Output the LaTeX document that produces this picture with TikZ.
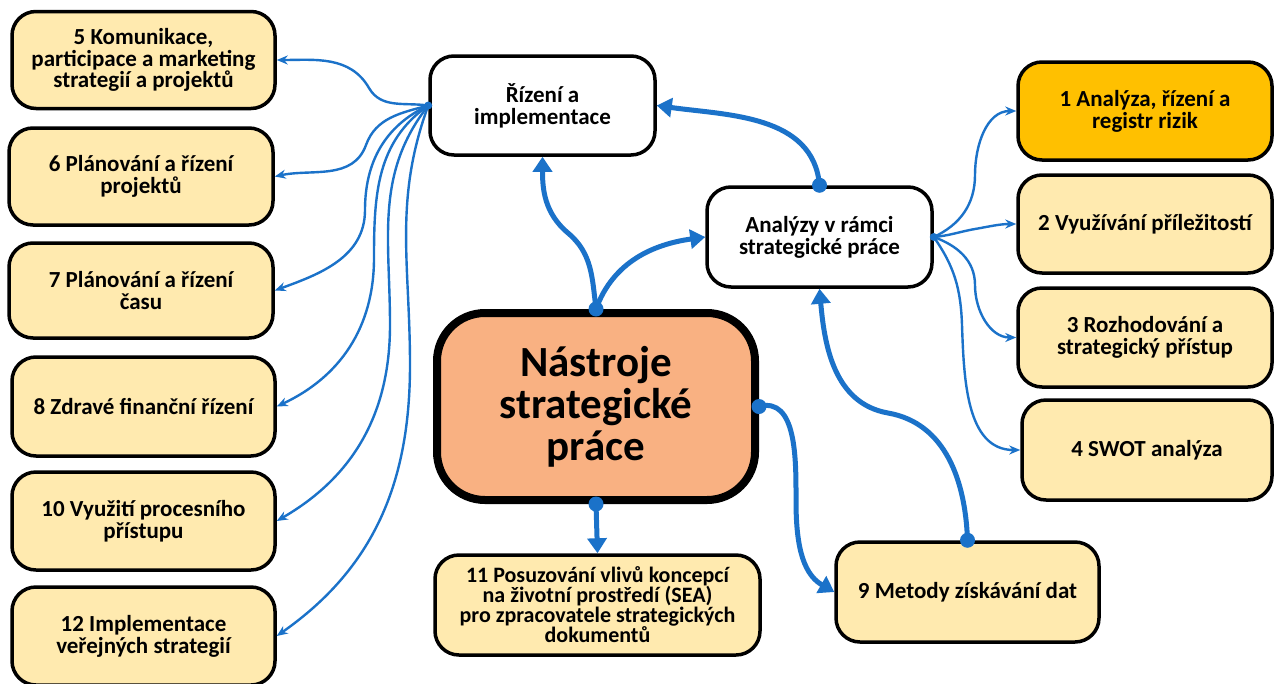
\documentclass[tikz,border=0pt]{standalone}
\usepackage{fontspec}
\setmainfont{Carlito}
\usetikzlibrary{arrows.meta}
\definecolor{cream}{HTML}{FFEAAF}
\definecolor{gold}{HTML}{FFC000}
\definecolor{salmon}{HTML}{F9B182}
\definecolor{lineblue}{HTML}{1B72C9}
\tikzset{
  box/.style={draw=black, line width=3.5pt, rounded corners=24pt, align=center,
    font=\bfseries\fontsize{23}{21.8}\selectfont, inner sep=0pt},
  creambox/.style={box, fill=cream},
  thinconn/.style={draw=lineblue, line width=2.4pt, -{Stealth[length=11pt,width=9pt]}},
  thickconn/.style={draw=lineblue, line width=5pt, -{Triangle[length=15pt,width=19pt]}},
  bigdot/.style={fill=lineblue, circle, inner sep=0pt, minimum size=15pt},
  smalldot/.style={fill=lineblue, circle, inner sep=0pt, minimum size=8pt},
}
\begin{document}
\begin{tikzpicture}[x=1pt,y=-1pt]
\clip (0,0) rectangle (1274,683);
\fill[white] (0,0) rectangle (1274,683);
% left boxes
\node[creambox, minimum width=263pt, minimum height=97pt] (b5) at (143.5,60) {5 Komunikace,\\participace a marketing\\strategií a projektů};
\node[creambox, minimum width=264pt, minimum height=97pt] (b6) at (141,176.5) {6 Plánování a řízení\\projektů};
\node[creambox, minimum width=264pt, minimum height=95pt] (b7) at (141,290.5) {7 Plánování a řízení\\času};
\node[creambox, minimum width=263pt, minimum height=99pt] (b8) at (143.5,406.5) {8 Zdravé finanční řízení};
\node[creambox, minimum width=263pt, minimum height=98pt] (b10) at (143.5,521) {10 Využití procesního\\přístupu};
\node[creambox, minimum width=263pt, minimum height=98pt] (b12) at (143.5,636) {12 Implementace\\veřejných strategií};
% middle
\node[box, fill=white, minimum width=225pt, minimum height=99pt] (r) at (542.5,105.5) {Řízení a\\implementace};
\node[box, fill=white, minimum width=225pt, minimum height=100pt] (a) at (819.5,237) {Analýzy v rámci\\strategické práce};
\node[box, fill=salmon, line width=8pt, rounded corners=48pt, minimum width=318pt, minimum height=187pt,
  font=\bfseries\fontsize{43}{42}\selectfont] (c) at (596,406.5) {Nástroje\\strategické\\práce};
\node[creambox, minimum width=325pt, minimum height=100pt, font=\bfseries\fontsize{22}{20}\selectfont] (b11) at (597.5,605)
  {11 Posuzování vlivů koncepcí\\na životní prostředí (SEA)\\pro zpracovatele strategických\\dokumentů};
\node[creambox, minimum width=263pt, minimum height=100pt] (b9) at (967.5,592) {9 Metody získávání dat};
% right boxes
\node[box, fill=gold, minimum width=254pt, minimum height=98pt] (b1) at (1145,111) {1 Analýza, řízení a\\registr rizik};
\node[creambox, minimum width=254pt, minimum height=98pt] (b2) at (1145,224) {2 Využívání příležitostí};
\node[creambox, minimum width=254pt, minimum height=99pt] (b3) at (1145,337.5) {3 Rozhodování a\\strategický přístup};
\node[creambox, minimum width=250pt, minimum height=100pt] (b4) at (1147,450) {4 SWOT analýza};
% left fan
\coordinate (rdot) at (r.west);
\draw[thinconn] (rdot) to[out=172,in=-60] (369,88) to[out=120,in=0] (b5.east);
\draw[thinconn] (rdot) to[out=195,in=70] (366,145) to[out=-110,in=12] (b6.east);
\draw[thinconn] (rdot) to[out=205,in=90] (365,210) to[out=-90,in=20] (b7.east);
\draw[thinconn] (rdot) to[out=215,in=90] (374,258) to[out=-90,in=25] (b8.east);
\draw[thinconn] (rdot) to[out=232,in=90] (390,325) to[out=-90,in=30] (b10.east);
\draw[thinconn] (rdot) to[out=250,in=90] (410,365) to[out=-90,in=35] (b12.east);
% right fan
\coordinate (adot) at (a.east);
\draw[thinconn] (adot) to[out=25,in=-90] (975,175) to[out=90,in=180] (b1.west);
\draw[thinconn] (adot) to[out=5,in=190] (975,229) to[out=10,in=180] (b2.west);
\draw[thinconn] (adot) to[out=-20,in=90] (975,285) to[out=-90,in=180] (b3.west);
\draw[thinconn] (adot) to[out=-55,in=92] (962,325) to[out=-88,in=180] (b4.west);
% thick connectors
\coordinate (ct) at (c.north);
\coordinate (cr) at (c.east);
\coordinate (cb) at (c.south);
\coordinate (at) at (a.north);
\coordinate (nt) at (b9.north);
\draw[thickconn] (ct) to[out=97,in=-40] (568,233) to[out=140,in=-90] (r.south);
\draw[thickconn] (ct) to[out=70,in=188] (a.west);
\draw[thickconn] (at) to[out=95,in=-8] (r.east);
\draw[thickconn] (nt) to[out=92,in=-10] (888,413) to[out=170,in=-85] (a.south);
\draw[thickconn] (cr) to[out=15,in=90] (796,500) to[out=-90,in=150] (b9.west);
\draw[thickconn] (cb) -- (b11.north);
% dots
\node[smalldot] (d1) at (rdot) {};
\node[smalldot] (d2) at (adot) {};
\node[bigdot] (d3) at (ct) {};
\node[bigdot] (d4) at (cr) {};
\node[bigdot] (d5) at (cb) {};
\node[bigdot] (d6) at (at) {};
\node[bigdot] (d7) at (nt) {};
\end{tikzpicture}
\end{document}
